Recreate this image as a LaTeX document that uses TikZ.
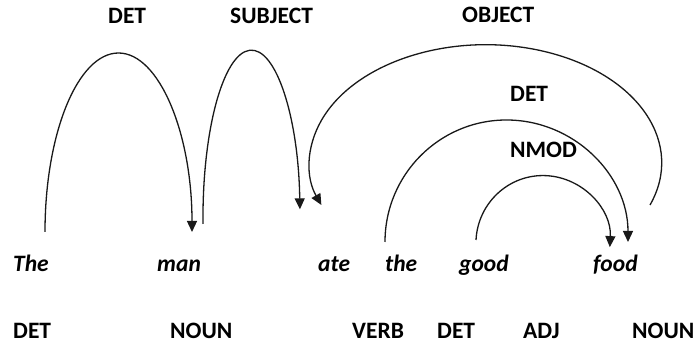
\documentclass[tikz,border=0pt]{standalone}
\usepackage{fontspec}
\setmainfont{Carlito}
\usetikzlibrary{arrows.meta}
\begin{document}
\begin{tikzpicture}[x=1pt,y=1pt,
  txt/.style={inner sep=0pt,anchor=base west,font=\fontsize{23.5}{28}\selectfont\bfseries},
  word/.style={txt,font=\fontsize{23.5}{28}\selectfont\bfseries\itshape},
  dep/.style={draw=black!90,line width=1.3pt,-{Triangle[length=11pt,width=10pt]}},
  depfree/.style={draw=black!90,line width=1.3pt}]
\useasboundingbox (0,0) rectangle (694,345);
% relation labels
\node[txt] (lDet1) at (108,321) {DET};
\node[txt] (lSubj) at (230,321) {SUBJECT};
\node[txt] (lObj) at (462,322) {OBJECT};
\node[txt] (lDet2) at (510,243) {DET};
\node[txt] (lNmod) at (510,187) {NMOD};
% words
\node[word] (wThe) at (13,73) {The};
\node[word] (wMan) at (157,73) {man};
\node[word] (wAte) at (318,73) {ate};
\node[word] (wthe) at (385,73) {the};
\node[word] (wGood) at (459,73) {good};
\node[word] (wFood) at (593,73) {food};
% tags
\node[txt] (tThe) at (13,6) {DET};
\node[txt] (tMan) at (170,6) {NOUN};
\node[txt] (tAte) at (352,6) {VERB};
\node[txt] (tthe) at (437,6) {DET};
\node[txt] (tGood) at (523,6) {ADJ};
\node[txt] (tFood) at (632,6) {NOUN};
% arc start points
\coordinate (sDet1) at (45,113);
\coordinate (sSubj) at (203,121);
\coordinate (sObj) at (650,140);
\coordinate (sDet2) at (385,103);
\coordinate (sNmod) at (476,105);
% arcs
\draw[dep] (sDet1) arc[start angle=180,end angle=0,x radius=73.5,y radius=179];
\draw[dep] (sSubj) arc[start angle=182,end angle=3,x radius=48.5,y radius=168];
\draw[dep] (sObj) arc[start angle=-21,end angle=201,x radius=176,y radius=118];
\draw[dep] (sDet2) arc[start angle=180,end angle=0,x radius=121.5,y radius=122];
\draw[dep] (sNmod) arc[start angle=177,end angle=-3,x radius=67,y radius=68];
\end{tikzpicture}
\end{document}
